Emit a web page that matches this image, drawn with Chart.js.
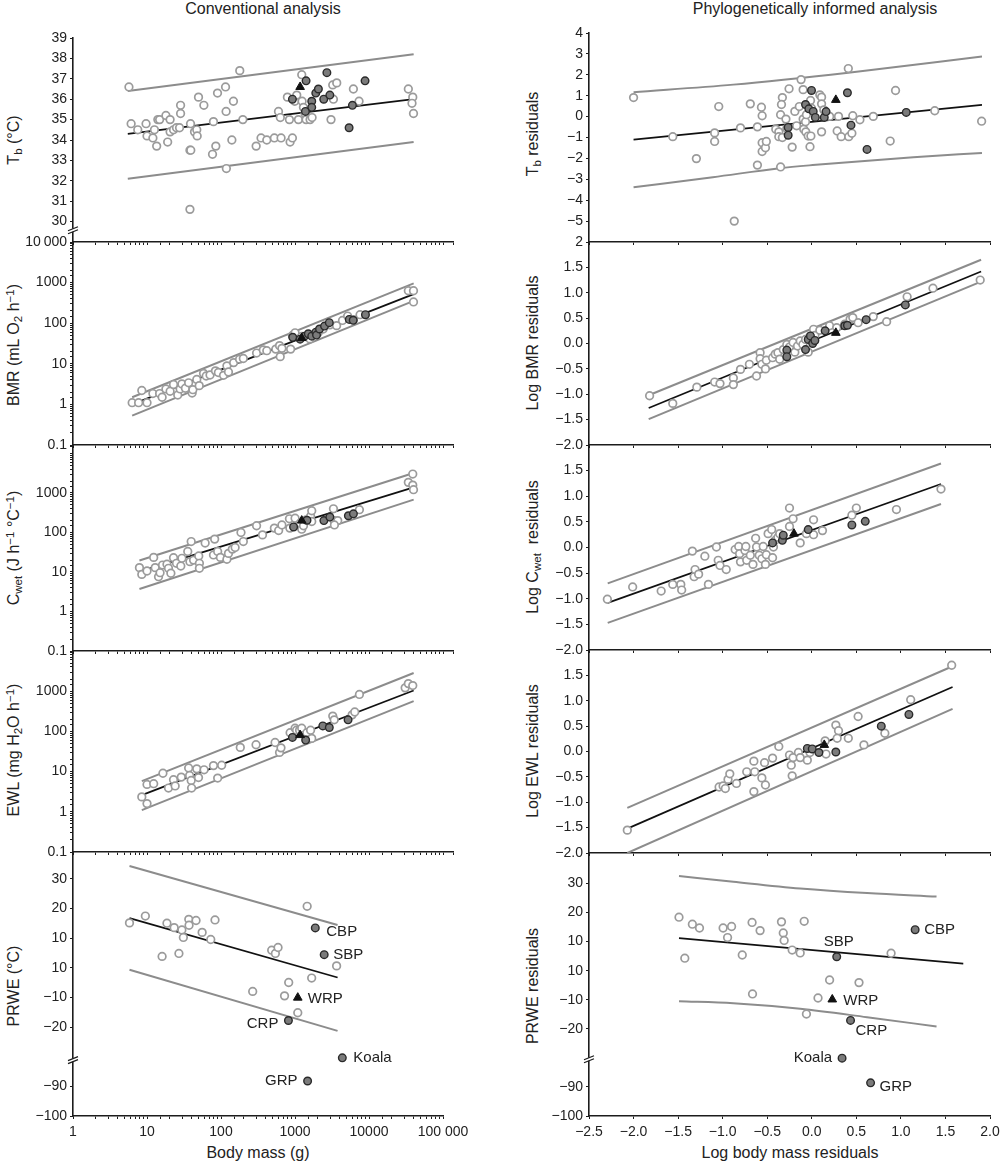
<!DOCTYPE html>
<html>
<head>
<meta charset="utf-8">
<script src="https://cdn.jsdelivr.net/npm/chart.js@4.4.0/dist/chart.umd.min.js"></script>
<style>
body{margin:0;background:#fff;font-family:"Liberation Sans",Arial,sans-serif;color:#222}
#fig{position:relative;width:1000px;height:1164px;overflow:hidden}
#fig canvas{position:absolute}
.t{position:absolute;transform:translate(-50%,-50%);white-space:nowrap;font-size:16px;line-height:1}
.yt{position:absolute;transform:translate(-50%,-50%) rotate(-90deg);white-space:nowrap;font-size:16px;line-height:1}
sub,sup{font-size:72%;line-height:0;position:relative;vertical-align:baseline}
sub{top:0.3em}
sup{top:-0.45em}
</style>
</head>
<body>
<div id="fig">
  <div class="t" style="left:263px;top:9px">Conventional analysis</div>
  <div class="t" style="left:815px;top:9px">Phylogenetically informed analysis</div>
  <div class="yt" style="left:14px;top:140px">T<sub>b</sub> (°C)</div>
  <div class="yt" style="left:14px;top:345px">BMR (mL O<sub>2</sub> h<sup>−1</sup>)</div>
  <div class="yt" style="left:14px;top:548px">C<sub>wet</sub> (J h<sup>−1</sup> °C<sup>−1</sup>)</div>
  <div class="yt" style="left:14px;top:750px">EWL (mg H<sub>2</sub>O h<sup>−1</sup>)</div>
  <div class="yt" style="left:14px;top:986px">PRWE (°C)</div>
  <div class="yt" style="left:533px;top:134px">T<sub>b</sub> residuals</div>
  <div class="yt" style="left:533px;top:343px">Log BMR residuals</div>
  <div class="yt" style="left:533px;top:547px">Log C<sub>wet</sub>&nbsp; residuals</div>
  <div class="yt" style="left:533px;top:751px">Log EWL residuals</div>
  <div class="yt" style="left:533px;top:986px">PRWE residuals</div>
  <div class="t" style="left:258px;top:1153px">Body mass (g)</div>
  <div class="t" style="left:790px;top:1153px">Log body mass residuals</div>
</div>
<script>
// ---------- data: conventional (body mass g) ----------
var tbConvOpen = [[5.7,36.6],[6.1,34.8],[7.5,34.5],[9.7,34.8],[10,34.2],[12,34.1],[12.6,34.5],[13.5,33.7],[14,35.0],[14.8,35.0],[18,35.2],[19,33.9],[20.5,35.0],[20.5,34.4],[22.8,34.5],[25,34.6],[27.5,34.6],[28.4,35.3],[28.4,35.7],[38,33.5],[38.7,34.8],[39,33.5],[38,30.6],[43.8,34.4],[47,34.5],[47.6,34.2],[49.6,36.1],[58.6,35.7],[76.7,33.3],[79,34.9],[85,33.7],[89.6,36.3],[115,36.6],[117,35.4],[118,32.6],[140,34.0],[147,35.9],[179,37.4],[197,35.0],[298,33.7],[347,34.1],[415,34.0],[525,34.1],[597,35.4],[647,34.1],[632,35.1],[788,36.1],[839,35.0],[857,33.9],[921,34.1],[990,35.9],[1054,36.2],[1110,35.0],[1231,37.2],[1244,35.9],[1297,35.6],[1365,35.3],[1408,35.0],[1595,35.0],[1698,35.1],[3060,35.0],[3226,36.7],[3296,36.0],[3655,36.8],[6135,36.5],[7316,35.9],[33900,36.5],[38900,36.1],[38000,35.8],[39800,35.3]];
var tbConvFilled = [[921,36.0],[1408,36.9],[1380,35.4],[1680,35.9],[1680,35.6],[1905,36.3],[2066,36.5],[2440,36.0],[2690,37.3],[2950,36.2],[5370,34.6],[5950,35.7],[8820,36.9]];
var tbConvTri = [[1170,36.6]];
var tbConvFit = [[5.5,34.3],[40000,36.0]];
var tbConvUpper = [[5.5,36.4],[40000,38.2]];
var tbConvLower = [[5.5,32.1],[40000,33.9]];

var bmrConvOpen = [[6.3,1.1],[7.7,1.1],[8.5,2.2],[10,1.1],[12,1.85],[14.8,1.85],[16,1.5],[18,2.4],[20.5,2.1],[22.8,3.1],[26,1.7],[28,2.4],[29.6,3.2],[33,2.5],[36.5,3.4],[40.7,1.9],[41.6,2.3],[47,4.1],[50.7,2.9],[58,5.8],[63,5.0],[71,5.3],[84,6.7],[92,6.1],[108,5.2],[120,8.9],[126,6.3],[148,10.7],[178,13],[200,13.5],[302,18.4],[372,22],[415,21],[549,23],[630,15],[617,28],[664,24],[871,23],[921,50],[1000,58],[1230,47],[1590,41],[2050,58],[2400,72],[2950,91],[3640,87],[4370,117],[5130,150],[6140,122],[7550,162],[33900,630],[39800,630],[39800,334]];
var bmrConvFilled = [[930,45],[1170,40.5],[1340,48],[1510,55],[1680,48],[1910,60],[1950,51],[2140,72],[2500,85],[2900,103],[5400,124],[6100,118],[8930,162]];
var bmrConvTri = [[1230,43]];
var bmrConvFit = [[6.3,1.0],[40000,520]];
var bmrConvUpper = [[6.3,1.5],[40000,955]];
var bmrConvLower = [[6.3,0.53],[40000,355]];

var cwetConvOpen = [[7.9,12.9],[8.5,8.7],[10,10.6],[12.3,23.4],[12.9,12.9],[14.3,7.6],[15,9.6],[16.2,15],[18.6,15.7],[19.5,12.4],[21,9.3],[22.8,23],[25,16.6],[28.6,14.2],[29.6,22.2],[35.5,33],[38,18.3],[39.5,59],[42.5,20],[50,25.5],[51,16.6],[51,12.4],[61,54],[79,27],[82,68],[90,33],[98,23.4],[120,21],[126,29.6],[142,38],[155,41.7],[186,100],[200,59],[302,148],[363,87],[525,129],[600,112],[664,155],[839,222],[850,129],[1000,230],[1170,172],[1230,121],[1300,148],[1410,209],[1620,256],[1680,355],[1680,190],[3300,398],[3360,200],[3770,200],[3400,155],[7400,378],[33900,1860],[38900,3020],[38900,1580],[39800,1210]];
var cwetConvFilled = [[955,138],[1450,204],[2450,200],[2950,246],[5250,265],[6140,296]];
var cwetConvTri = [[1230,200]];
var cwetConvFit = [[7.9,10.2],[40000,1390]];
var cwetConvUpper = [[7.9,19.5],[40000,3200]];
var cwetConvLower = [[7.9,3.7],[40000,680]];

var ewlConvOpen = [[8.5,2.35],[10,1.6],[10,4.8],[12.3,5.0],[16.4,9.1],[19.5,3.9],[22.8,6.3],[24,4.4],[29,7.3],[36.5,12.3],[37.6,8.0],[39.5,6.0],[40,3.9],[47,11.7],[49.6,7.1],[59,11.1],[79,14.1],[90,6.9],[102,14.4],[182,40],[297,46.5],[537,53],[617,30],[645,39],[857,93],[1000,120],[1047,107],[1150,107],[1230,120],[1440,93],[1620,107],[1680,67],[3230,240],[3380,194],[5900,258],[6400,304],[7400,830],[30700,1210],[33900,1545],[38900,1380]];
var ewlConvFilled = [[921,71],[1390,61],[2370,137],[2900,125],[5200,194]];
var ewlConvTri = [[1170,81]];
var ewlConvFit = [[8.5,2.6],[40000,1040]];
var ewlConvUpper = [[8.5,5.8],[40000,2830]];
var ewlConvLower = [[8.5,1.1],[40000,566]];

var prweConvOpen = [[5.8,15.1],[9.5,17.4],[16,3.8],[18.6,15.0],[23.3,13.5],[27,4.8],[29.6,12.7],[31,10.2],[36.7,16.3],[37,14.3],[46,15.9],[55.6,11.9],[72.7,9.5],[83,16.1],[268,-8.0],[484,5.9],[543,4.8],[590,6.8],[722,-9.5],[822,-5.0],[1090,-15.2],[1460,20.7],[1680,-3.5],[3650,0.6]];
var prweConvFilled = [[1880,13.4],[2480,4.4],[815,-17.8],[4360,-80.4],[1480,-88.2]];
var prweConvFilledNames = ['CBP','SBP','CRP','Koala','GRP'];
var prweConvTri = [[1090,-10.1]];
var prweConvTriNames = ['WRP'];
var prweConvFit = [[5.8,16.7],[3760,-3.3]];
var prweConvUpper = [[5.8,34.3],[3760,14.4]];
var prweConvLower = [[5.8,-0.7],[3760,-21.3]];

// ---------- data: phylogenetically informed (log body mass residuals) ----------
var tbPhyOpen = [[-2.0,0.91],[-1.56,-0.96],[-1.295,-2.01],[-1.09,-0.78],[-1.09,-1.19],[-1.044,0.48],[-0.80,-0.54],[-0.87,-5.0],[-0.69,0.61],[-0.61,-0.49],[-0.61,-2.32],[-0.565,0.45],[-0.557,0.04],[-0.557,-1.25],[-0.557,-1.67],[-0.52,-1.49],[-0.51,-1.19],[-0.404,-0.60],[-0.37,-0.73],[-0.37,-0.96],[-0.35,-2.41],[-0.35,0.09],[-0.33,0.91],[-0.34,0.58],[-0.33,-1.0],[-0.29,-0.12],[-0.28,-0.57],[-0.255,1.33],[-0.22,-1.46],[-0.19,0.25],[-0.17,-0.44],[-0.14,0.48],[-0.12,1.77],[-0.097,1.29],[-0.097,-0.12],[-0.09,-0.60],[-0.07,-0.25],[-0.067,-0.73],[-0.06,0.09],[-0.04,-0.93],[-0.02,-1.44],[-0.014,0.77],[-0.01,-0.93],[-0.003,0.40],[0.09,1.04],[0.11,0.93],[0.11,-0.73],[0.11,0.61],[0.135,0.32],[0.20,0.01],[0.285,-0.69],[0.30,0.01],[0.33,-0.96],[0.41,2.30],[0.415,-0.96],[0.45,-0.80],[0.46,0.04],[0.54,-0.15],[0.69,0.01],[0.88,-1.17],[0.94,1.25],[1.38,0.28],[1.906,-0.22]];
var tbPhyFilled = [[-0.265,-0.52],[-0.265,-0.89],[-0.003,1.25],[-0.07,0.58],[-0.033,0.37],[0.016,0.25],[0.04,-0.04],[0.14,-0.04],[0.16,0.24],[0.40,1.14],[0.44,-0.41],[0.62,-1.57],[1.06,0.20]];
var tbPhyTri = [[0.27,0.80]];
var tbPhyFit = [[-2.0,-1.10],[1.91,0.56]];
var tbPhyUpper = [[-2.0,1.17],[-0.88,1.53],[0.41,2.1],[1.91,2.87]];
var tbPhyLower = [[-2.0,-3.38],[-1.11,-2.90],[-0.36,-2.47],[0.01,-2.32],[1.14,-1.94],[1.91,-1.74]];

var bmrPhyOpen = [[-1.82,-1.03],[-1.56,-1.18],[-1.29,-0.86],[-1.09,-0.76],[-1.03,-0.79],[-0.88,-0.68],[-0.88,-0.81],[-0.80,-0.51],[-0.70,-0.41],[-0.62,-0.64],[-0.58,-0.18],[-0.58,-0.30],[-0.56,-0.41],[-0.52,-0.50],[-0.51,-0.33],[-0.44,-0.28],[-0.41,-0.21],[-0.38,-0.18],[-0.36,-0.31],[-0.32,-0.12],[-0.28,-0.02],[-0.25,-0.07],[-0.21,0.02],[-0.19,-0.17],[-0.16,-0.05],[-0.13,0.05],[-0.10,-0.02],[-0.07,0.08],[-0.04,-0.17],[-0.02,0.14],[0.02,0.28],[0.035,0.16],[0.09,0.26],[0.20,0.35],[0.28,0.31],[0.37,0.38],[0.43,0.48],[0.46,0.51],[0.52,0.41],[0.69,0.53],[0.84,0.43],[1.07,0.92],[1.36,1.09],[1.89,1.25]];
var bmrPhyFilled = [[-0.28,-0.13],[-0.28,-0.26],[-0.07,-0.12],[-0.04,0.08],[-0.015,0.15],[0.01,0.0],[0.035,0.06],[0.15,0.25],[0.37,0.35],[0.40,0.36],[0.61,0.47],[1.05,0.76]];
var bmrPhyTri = [[0.27,0.21]];
var bmrPhyFit = [[-1.83,-1.27],[1.9,1.42]];
var bmrPhyUpper = [[-1.83,-1.02],[1.9,1.65]];
var bmrPhyLower = [[-1.83,-1.49],[1.9,1.22]];

var cwetPhyOpen = [[-2.294,-1.01],[-2.01,-0.77],[-1.69,-0.85],[-1.56,-0.72],[-1.47,-0.72],[-1.46,-0.83],[-1.34,-0.07],[-1.32,-0.57],[-1.31,-0.43],[-1.27,-0.52],[-1.20,-0.17],[-1.16,-0.72],[-1.07,0.01],[-1.05,-0.25],[-1.03,-0.35],[-0.96,-0.43],[-0.86,-0.04],[-0.82,0.02],[-0.81,-0.12],[-0.80,-0.28],[-0.75,-0.06],[-0.74,0.02],[-0.73,-0.25],[-0.69,-0.15],[-0.66,-0.33],[-0.63,0.18],[-0.62,0.01],[-0.59,-0.15],[-0.56,-0.22],[-0.545,0.02],[-0.52,-0.33],[-0.51,-0.14],[-0.49,0.27],[-0.45,0.35],[-0.44,-0.20],[-0.43,0.01],[-0.41,0.14],[-0.38,0.20],[-0.36,0.27],[-0.25,0.77],[-0.25,0.41],[-0.21,0.56],[-0.13,0.09],[-0.06,0.27],[0.02,0.54],[0.02,0.25],[0.12,0.33],[0.45,0.63],[0.50,0.77],[0.95,0.74],[1.45,1.14]];
var cwetPhyFilled = [[-0.44,0.09],[-0.33,0.14],[-0.32,0.24],[-0.04,0.35],[0.45,0.44],[0.60,0.51]];
var cwetPhyTri = [[-0.20,0.27]];
var cwetPhyFit = [[-2.29,-1.08],[1.45,1.24]];
var cwetPhyUpper = [[-2.29,-0.70],[1.45,1.64]];
var cwetPhyLower = [[-2.29,-1.47],[1.45,0.85]];

var ewlPhyOpen = [[-2.07,-1.55],[-1.04,-0.70],[-0.995,-0.68],[-0.97,-0.73],[-0.94,-0.55],[-0.92,-0.44],[-0.845,-0.63],[-0.73,-0.40],[-0.65,-0.19],[-0.64,-0.40],[-0.65,-0.79],[-0.56,-0.52],[-0.53,-0.22],[-0.52,-0.66],[-0.44,-0.13],[-0.37,0.10],[-0.25,-0.07],[-0.23,-0.27],[-0.22,-0.48],[-0.21,-0.12],[-0.15,-0.02],[-0.13,-0.12],[-0.05,-0.17],[-0.02,-0.02],[0.15,0.21],[0.16,-0.05],[0.27,0.52],[0.30,0.41],[0.285,0.26],[0.41,0.26],[0.52,0.69],[0.585,0.13],[0.82,0.36],[1.11,1.02],[1.57,1.70]];
var ewlPhyFilled = [[-0.05,0.06],[0.005,0.05],[0.08,-0.02],[0.27,-0.01],[0.78,0.50],[1.09,0.73]];
var ewlPhyTri = [[0.14,0.13]];
var ewlPhyFit = [[-2.07,-1.52],[1.58,1.27]];
var ewlPhyUpper = [[-2.07,-1.11],[1.58,1.68]];
var ewlPhyLower = [[-2.07,-2.0],[1.58,0.84]];

var prwePhyOpen = [[-1.49,18.4],[-1.425,4.3],[-1.34,16.0],[-1.26,14.7],[-0.995,14.7],[-0.945,11.4],[-0.90,15.2],[-0.78,5.4],[-0.67,16.6],[-0.665,-8.0],[-0.58,13.8],[-0.34,16.8],[-0.32,13.0],[-0.31,10.4],[-0.22,7.1],[-0.13,6.1],[-0.085,17.0],[-0.06,-14.9],[0.07,-9.4],[0.20,-3.2],[0.53,-4.1],[0.89,6.0]];
var prwePhyFilled = [[1.16,14.1],[0.28,4.8],[0.435,-17.1],[0.34,-80.1],[0.66,-88.6]];
var prwePhyFilledNames = ['CBP','SBP','CRP','Koala','GRP'];
var prwePhyTri = [[0.23,-9.9]];
var prwePhyTriNames = ['WRP'];
var prwePhyFit = [[-1.49,11.2],[1.70,2.4]];
var prwePhyUpper = [[-1.49,32.6],[-0.88,30.6],[-0.13,28.3],[0.62,26.7],[1.40,25.5]];
var prwePhyLower = [[-1.49,-10.5],[-0.88,-11.2],[-0.13,-13.1],[0.62,-16.0],[1.40,-19.2]];

// tick labels of the broken PRWE axis (value on the drawn axis -> printed label)
var prweTickValues = [30, 20, 10, 0, -10, -20, -40, -50];
var prweTickLabels = ['30', '20', '10', '10', '−10', '−20', '−90', '−100'];
var logXLabels = {1: '1', 10: '10', 100: '100', 1000: '1000', 10000: '10000', 100000: '100 000'};

// ---------- drawing ----------
var ink = '#1c1c1c';
Chart.defaults.font.family = '"Liberation Sans", Arial, sans-serif';
Chart.defaults.font.size = 14;
Chart.defaults.color = '#222';

var fig = document.getElementById('fig');

function pts(a) { return a.map(function(p) { return {x: p[0], y: p[1]}; }); }
// below the break the PRWE axis is shifted by 50
function brokenPts(a) { return a.map(function(p) { return {x: p[0], y: p[1] < -50 ? p[1] + 50 : p[1]}; }); }
function minus(s) { return String(s).replace('-', '\u2212'); }
function isPow10(v) { var l = Math.log10(v); return Math.abs(l - Math.round(l)) < 1e-6; }

function markerSets(open, filled, tri, fit, upper, lower, map, curved) {
  map = map || pts;
  var ten = curved ? 0.4 : 0;
  return [
    {data: map(tri), order: 0, pointStyle: 'triangle', pointRadius: 5, pointBackgroundColor: '#111', pointBorderColor: '#111', pointBorderWidth: 1},
    {data: map(filled), order: 1, pointRadius: 3.8, pointBackgroundColor: '#7b7b7b', pointBorderColor: '#2a2a2a', pointBorderWidth: 1.4},
    {data: map(open), order: 2, pointRadius: 3.8, pointBackgroundColor: '#fff', pointBorderColor: '#9b9b9b', pointBorderWidth: 1.7},
    {data: map(fit), order: 3, showLine: true, pointRadius: 0, borderColor: '#111', borderWidth: 1.7},
    {data: map(upper), order: 4, showLine: true, pointRadius: 0, borderColor: '#8c8c8c', borderWidth: 2, tension: ten, cubicInterpolationMode: curved ? 'monotone' : 'default'},
    {data: map(lower), order: 4, showLine: true, pointRadius: 0, borderColor: '#8c8c8c', borderWidth: 2, tension: ten, cubicInterpolationMode: curved ? 'monotone' : 'default'}
  ];
}

function breakPlugin(at) {
  return {id: 'axisBreak', afterDraw: function(chart) {
    if (at == null) return;
    var ctx = chart.ctx, x = chart.chartArea.left, y = chart.scales.y.getPixelForValue(at);
    ctx.save();
    ctx.fillStyle = '#fff';
    ctx.fillRect(x - 2, y - 1, 4, 3);
    ctx.strokeStyle = ink; ctx.lineWidth = 1.3;
    ctx.beginPath();
    ctx.moveTo(x - 5, y + 1); ctx.lineTo(x + 5, y - 3);
    ctx.moveTo(x - 5, y + 4); ctx.lineTo(x + 5, y);
    ctx.stroke();
    ctx.restore();
  }};
}

function namesPlugin(spec) {
  return {id: 'pointNames', afterDatasetsDraw: function(chart) {
    if (!spec) return;
    var ctx = chart.ctx;
    ctx.save();
    ctx.font = '15px "Liberation Sans", Arial, sans-serif';
    ctx.fillStyle = '#222';
    ctx.textBaseline = 'middle';
    spec.forEach(function(s) {
      var el = chart.getDatasetMeta(s.ds).data[s.i];
      ctx.textAlign = s.align;
      ctx.fillText(s.text, el.x + s.dx, el.y + s.dy);
    });
    ctx.restore();
  }};
}

function panel(p) {
  var padL = 70, padT = 12, padR = p.bottom ? 32 : 6, axH = p.bottom ? 30 : 12;
  var cv = document.createElement('canvas');
  cv.width = padL + p.w + padR;
  cv.height = padT + p.h + axH;
  cv.style.left = (p.l - padL) + 'px';
  cv.style.top = (p.t - padT) + 'px';
  fig.appendChild(cv);
  var grid = {drawOnChartArea: false, drawTicks: true, tickLength: 3, color: ink, lineWidth: 1};
  var border = {color: ink, width: 1.6};
  return new Chart(cv, {
    type: 'scatter',
    data: {datasets: p.datasets},
    options: {
      responsive: false, animation: false, events: [],
      layout: {padding: {left: 0, top: padT, right: padR, bottom: 0}},
      plugins: {legend: {display: false}, tooltip: {enabled: false}},
      scales: {
        x: {
          type: p.xType, min: p.xMin, max: p.xMax,
          grid: grid, border: border,
          ticks: {display: !!p.bottom, autoSkip: false, maxRotation: 0, padding: 5, stepSize: p.xStep, callback: p.xFmt},
          afterFit: function(s) { s.height = axH; }
        },
        y: {
          type: p.yType, min: p.yMin, max: p.yMax,
          grid: grid, border: border,
          ticks: {autoSkip: false, padding: 3, stepSize: p.yStep, callback: p.yFmt},
          afterBuildTicks: p.yTicks,
          afterFit: function(s) { s.width = padL; }
        }
      }
    },
    plugins: [breakPlugin(p.breakAt), namesPlugin(p.names)]
  });
}

// label formatters
function logXFmt(v) { return isPow10(v) ? (logXLabels[Math.round(v)] || '') : ''; }
function resXFmt(v) { return minus(v.toFixed(1)); }
function logYFmt(hideFrom) {
  return function(v) {
    if (!isPow10(v) || v >= hideFrom) return '';
    return v >= 10000 ? '10\u2009000' : String(v >= 1 ? Math.round(v) : v);
  };
}
function resYFmt(hideFrom) {
  return function(v) {
    if (v >= hideFrom) return '';
    return v === 2 ? '2' : minus(v.toFixed(1));
  };
}
function prweTicks(s) { s.ticks = prweTickValues.map(function(v) { return {value: v}; }); }
function prweFmt(v) { var i = prweTickValues.indexOf(v); return i < 0 ? '' : prweTickLabels[i]; }

function nameSpec(filledNames, triNames, offs) {
  var out = [];
  filledNames.forEach(function(n, i) { var o = offs[n]; out.push({ds: 1, i: i, text: n, dx: o[0], dy: o[1], align: o[2]}); });
  triNames.forEach(function(n, i) { var o = offs[n]; out.push({ds: 0, i: i, text: n, dx: o[0], dy: o[1], align: o[2]}); });
  return out;
}
var convNameOffsets = {CBP: [11, 4, 'left'], SBP: [9, 0, 'left'], CRP: [-10, 3, 'right'], Koala: [11, 0, 'left'], GRP: [-10, 0, 'right'], WRP: [10, 1, 'left']};
var phyNameOffsets = {CBP: [9, 0, 'left'], SBP: [2, -15, 'center'], CRP: [5, 10, 'left'], Koala: [-10, 0, 'right'], GRP: [9, 4, 'left'], WRP: [11, 1, 'left']};

var LX = {l: 73, w: 380, xType: 'logarithmic', xMin: 1, xMax: 136000, xFmt: logXFmt};
var RX = {l: 589, w: 401, xType: 'linear', xMin: -2.5, xMax: 2.0, xStep: 0.5, xFmt: resXFmt};
function cfg(base, extra) { return Object.assign({}, base, extra); }

// conventional column
panel(cfg(LX, {t: 38, h: 204, yType: 'linear', yMin: 29, yMax: 39, yStep: 1, breakAt: 29.6,
  yTicks: function(s) { s.ticks = s.ticks.filter(function(t) { return t.value >= 30; }); },
  yFmt: function(v) { return String(v); },
  datasets: markerSets(tbConvOpen, tbConvFilled, tbConvTri, tbConvFit, tbConvUpper, tbConvLower)}));
panel(cfg(LX, {t: 242, h: 203, yType: 'logarithmic', yMin: 0.1, yMax: 10000, yFmt: logYFmt(1e9),
  datasets: markerSets(bmrConvOpen, bmrConvFilled, bmrConvTri, bmrConvFit, bmrConvUpper, bmrConvLower)}));
panel(cfg(LX, {t: 445, h: 206, yType: 'logarithmic', yMin: 0.1, yMax: 16400, yFmt: logYFmt(10000),
  datasets: markerSets(cwetConvOpen, cwetConvFilled, cwetConvTri, cwetConvFit, cwetConvUpper, cwetConvLower)}));
panel(cfg(LX, {t: 651, h: 201, yType: 'logarithmic', yMin: 0.1, yMax: 10000, yFmt: logYFmt(10000),
  datasets: markerSets(ewlConvOpen, ewlConvFilled, ewlConvTri, ewlConvFit, ewlConvUpper, ewlConvLower)}));
panel(cfg(LX, {t: 852, h: 264, w: 370, xMax: 100000, bottom: true, yType: 'linear', yMin: -50, yMax: 39, breakAt: -31,
  yTicks: prweTicks, yFmt: prweFmt,
  names: nameSpec(prweConvFilledNames, prweConvTriNames, convNameOffsets),
  datasets: markerSets(prweConvOpen, prweConvFilled, prweConvTri, prweConvFit, prweConvUpper, prweConvLower, brokenPts)}));

// phylogenetically informed column
panel(cfg(RX, {t: 33, h: 209, yType: 'linear', yMin: -6, yMax: 4, yStep: 1,
  yFmt: function(v) { return v <= -6 ? '' : minus(v); },
  datasets: markerSets(tbPhyOpen, tbPhyFilled, tbPhyTri, tbPhyFit, tbPhyUpper, tbPhyLower, pts, true)}));
panel(cfg(RX, {t: 242, h: 203, yType: 'linear', yMin: -2, yMax: 2, yStep: 0.5, yFmt: resYFmt(99),
  datasets: markerSets(bmrPhyOpen, bmrPhyFilled, bmrPhyTri, bmrPhyFit, bmrPhyUpper, bmrPhyLower)}));
panel(cfg(RX, {t: 445, h: 205, yType: 'linear', yMin: -2, yMax: 2, yStep: 0.5, yFmt: resYFmt(2),
  datasets: markerSets(cwetPhyOpen, cwetPhyFilled, cwetPhyTri, cwetPhyFit, cwetPhyUpper, cwetPhyLower)}));
panel(cfg(RX, {t: 650, h: 203, yType: 'linear', yMin: -2, yMax: 2, yStep: 0.5, yFmt: resYFmt(2),
  datasets: markerSets(ewlPhyOpen, ewlPhyFilled, ewlPhyTri, ewlPhyFit, ewlPhyUpper, ewlPhyLower)}));
panel(cfg(RX, {t: 853, h: 263, bottom: true, yType: 'linear', yMin: -50, yMax: 40.5, breakAt: -30.3,
  yTicks: prweTicks, yFmt: prweFmt,
  names: nameSpec(prwePhyFilledNames, prwePhyTriNames, phyNameOffsets),
  datasets: markerSets(prwePhyOpen, prwePhyFilled, prwePhyTri, prwePhyFit, prwePhyUpper, prwePhyLower, brokenPts, true)}));
</script>
</body>
</html>
